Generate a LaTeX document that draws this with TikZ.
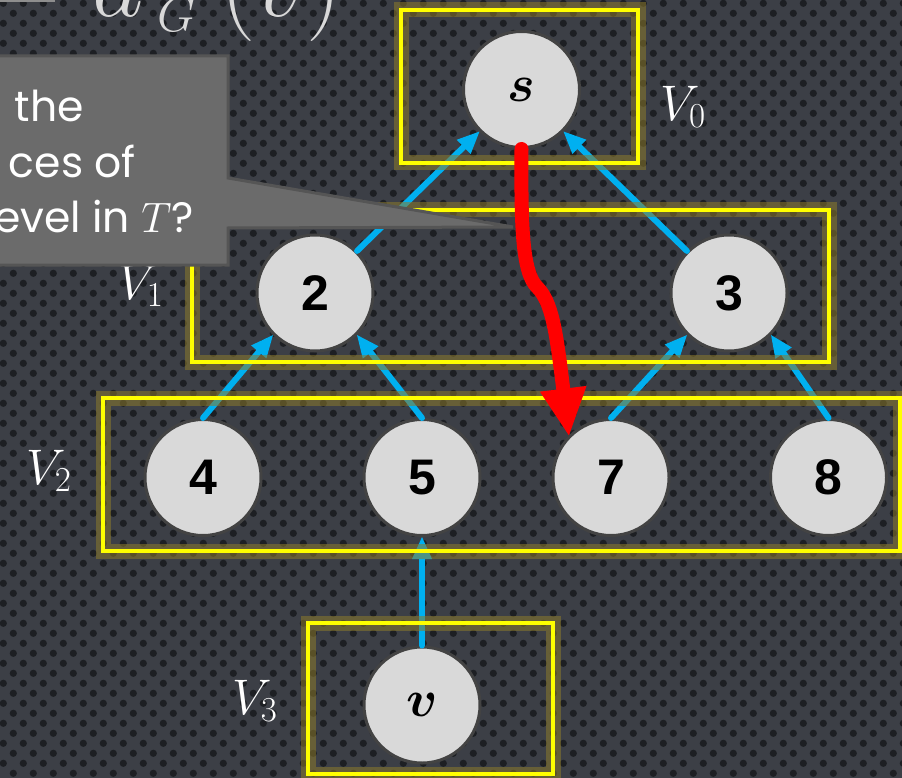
\RequirePackage{fix-cm}
\documentclass[tikz,border=0pt]{standalone}
\usepackage{amsmath,bm}
\usepackage{fontspec}
\newfontfamily\calloutfont{Poppins}
\newfontfamily\numfont{Liberation Sans}
\usetikzlibrary{arrows.meta}
\definecolor{bgc}{HTML}{3C3F46}
\definecolor{dotc}{HTML}{1D1F23}
\definecolor{nodefill}{HTML}{D9D9D9}
\definecolor{nodeborder}{HTML}{434343}
\definecolor{edgeblue}{HTML}{00B0F0}
\definecolor{boxyellow}{HTML}{FFFF00}
\definecolor{glowc}{HTML}{8C7A2C}
\definecolor{calloutfill}{HTML}{6B6B6B}
\definecolor{calloutborder}{HTML}{555555}
\definecolor{titlec}{HTML}{D9D9D9}
\definecolor{edgemark}{HTML}{8E8E8E}
\tikzset{
  vertex/.style={circle, fill=nodefill, draw=nodeborder, line width=3pt, minimum size=116pt, inner sep=0pt},
  numvertex/.style={vertex, font=\numfont\bfseries\fontsize{50}{60}\selectfont},
  mathvertex/.style={vertex, font=\fontsize{52}{60}\selectfont},
  treeedge/.style={draw=edgeblue, line width=6pt, line cap=round, -{Triangle[length=22pt,width=20pt,line width=0pt]}},
  levelbox/.style={draw=boxyellow, line width=3.5pt},
  levelglow/.style={draw=glowc, line width=15pt, opacity=0.55},
  levellabel/.style={text=white, font=\fontsize{50}{60}\selectfont, inner sep=0pt},
  redpath/.style={draw=red, line width=14pt, line cap=round, -{Triangle[length=47pt,width=47pt,line width=0pt]}},
  calloutbox/.style={fill=calloutfill, draw=calloutborder, line width=3pt, line join=miter},
  callouttext/.style={anchor=base east, text=white, inner sep=0pt, font=\calloutfont\fontsize{42.5}{50}\selectfont},
}
\begin{document}
\begin{tikzpicture}[x=1pt, y=-1pt]
\useasboundingbox (0,0) rectangle (902,778);
\clip (0,0) rectangle (902,778);
% background
\fill[bgc] (0,0) rectangle (902,778);
\foreach \j [evaluate=\j as \off using {mod(\j,2)*10}] in {0,...,78} {
  \foreach \k in {0,...,45} {
    \fill[dotc] ({3.3+\off+20*\k},{3.3+10*\j}) circle (3.6);
  }
}
\fill[edgemark] (0,0) rectangle (55,1.8);
% vertices
\node[mathvertex] (s) at (521.5,89.5) {$\bm{s}$};
\node[numvertex] (n2) at (315,293) {2};
\node[numvertex] (n3) at (729,293) {3};
\node[numvertex] (n4) at (203,477.5) {4};
\node[numvertex] (n5) at (422,477.5) {5};
\node[numvertex] (n7) at (611,477.5) {7};
\node[numvertex] (n8) at (828.5,477.5) {8};
\node[mathvertex] (v) at (422,705) {$\bm{v}$};
% tree edges
\draw[treeedge] (n2.north east) -- (s.south west);
\draw[treeedge] (n3.north west) -- (s.south east);
\draw[treeedge] (n4.north) -- (n2.south west);
\draw[treeedge] (n5.north) -- (n2.south east);
\draw[treeedge] (n7.north) -- (n3.south west);
\draw[treeedge] (n8.north) -- (n3.south east);
\draw[treeedge] (v.north) -- (n5.south);
% level boxes
\foreach \a/\b/\c/\d in {401/10/638/163, 192/210/829/362, 103/398/900/551, 308/623/553/774} {
  \draw[levelglow] (\a,\b) rectangle (\c,\d);
  \draw[levelbox] (\a,\b) rectangle (\c,\d);
}
% red path
\draw[redpath] (s.south) .. controls (521,225) and (522,272) .. (537,287) .. controls (552,302) and (556,330) .. (n7.north west);
% level labels
\node[levellabel] (l0) at (683,107) {$V_0$};
\node[levellabel] (l1) at (141,286) {$V_1$};
\node[levellabel] (l2) at (49,471) {$V_2$};
\node[levellabel] (l3) at (255,701) {$V_3$};
% callout
\draw[calloutbox] (-10,56) -- (228,56) -- (228,178) -- (513,227) -- (228,228) -- (228,265) -- (-10,265) -- cycle;
\node[callouttext] (c1) at (84,122) {the};
\node[callouttext] (c2) at (136,178) {ces of};
\node[callouttext] (c3) at (194,233) {evel in $T$?};
% title
\node[anchor=base west, text=titlec, inner sep=0pt, font=\fontsize{100}{110}\selectfont] (title) at (92,17) {$d_{\kern14pt\scriptscriptstyle G}\kern24pt(v)$};
\end{tikzpicture}
\end{document}
